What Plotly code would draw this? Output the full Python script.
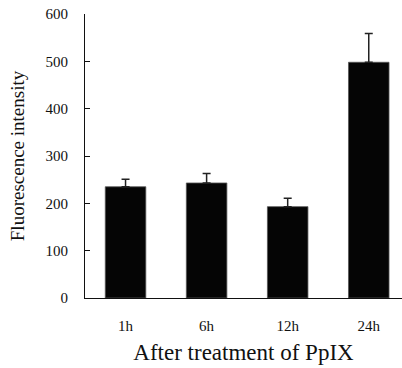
import plotly.graph_objects as go

categories = ["1h", "6h", "12h", "24h"]
values = [235, 243, 193, 498]
errors = [16, 20, 18, 61]
y_ticks = [0, 100, 200, 300, 400, 500, 600]

FONT = "Palatino Linotype, Book Antiqua, Palatino, Liberation Serif, DejaVu Serif, serif"

fig = go.Figure(
    go.Bar(
        x=categories,
        y=values,
        marker=dict(color="#050505", line=dict(color="#555555", width=0.8)),
        width=0.5,
        error_y=dict(type="data", array=errors, symmetric=False, arrayminus=[0] * 4,
                     color="#222222", thickness=1.5, width=4),
    )
)

fig.update_layout(
    width=402, height=368,
    margin=dict(l=85, r=0, t=14, b=70),
    paper_bgcolor="white", plot_bgcolor="white",
    font=dict(family=FONT, color="#111111", size=15),
    showlegend=False,
)
fig.update_xaxes(
    range=[-0.5, 3.41], automargin=False,
    showline=True, linecolor="#111111", linewidth=1.2,
    ticks="outside", ticklen=14, tickcolor="rgba(0,0,0,0)",
    tickfont=dict(size=15, family=FONT),
    title=dict(text="After treatment of PpIX", font=dict(size=23, family=FONT), standoff=10),
)
fig.update_yaxes(
    range=[0, 600], tickvals=y_ticks, automargin=False,
    showline=True, linecolor="#111111", linewidth=1.2,
    ticks="inside", ticklen=5, tickcolor="#111111",
    ticklabelstandoff=13,
    showgrid=False, zeroline=False,
    tickfont=dict(size=15, family=FONT),
    title=dict(text="Fluorescence intensity", font=dict(size=19, family=FONT), standoff=15),
)

# remove the browser's default 8px body margin so the figure fills the window
fig.write_html(
    "out.html",
    config={"displayModeBar": False},
    post_script="document.body.style.margin='0';",
)
